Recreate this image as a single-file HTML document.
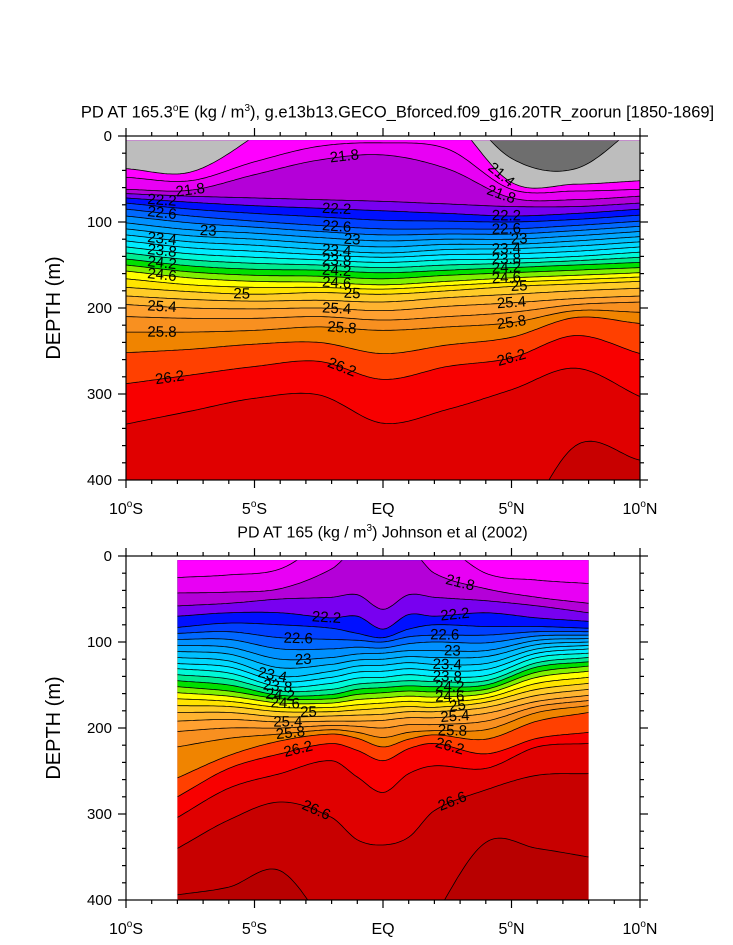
<!DOCTYPE html>
<html><head><meta charset="utf-8"><style>
html,body{margin:0;padding:0;background:#fff;}
svg{display:block;font-family:"Liberation Sans",sans-serif;}
</style></head><body>
<svg id="fig" width="733" height="945" viewBox="0 0 733 945">
<rect width="733" height="945" fill="#fff"/>
<g id="p1"></g>
<g id="p2"></g>
</svg>
<script>
// ---------- data ----------
const colorAbove = {"21.0":"#6e6e6e","21.4":"#bdbdbd","21.6":"#ff00ff","21.8":"#e800f4","22.0":"#b400d8","22.2":"#7800f0","22.4":"#0010ff","22.6":"#0040ff","22.8":"#0068ff","23.0":"#0090ff","23.2":"#00a8ff","23.4":"#00c0ff","23.6":"#00d8ff","23.8":"#00ecff","24.0":"#00f8d8","24.2":"#00ec90","24.4":"#00e000","24.6":"#80f000","24.8":"#ffff00","25.0":"#ffe400","25.2":"#ffcc28","25.4":"#ffb430","25.6":"#ffa030","25.8":"#f89020","26.0":"#f08400","26.2":"#ff4000","26.4":"#f80000","26.6":"#e00000","26.8":"#c80000"};

const topLats = [-10,-7.5,-5,-2.5,0,2.5,5,7.5,10];
const topLevels = [21.0,21.4,21.6,21.8,22.0,22.2,22.4,22.6,22.8,23.0,23.2,23.4,23.6,23.8,24.0,24.2,24.4,24.6,24.8,25.0,25.2,25.4,25.6,25.8,26.0,26.2,26.4,26.6];
const topDepths = [
 [-60,-60,-60,-60,-60,-45,26,38,-15],
 [38,42,0,-60,-60,-25,54,56,52],
 [48,52,30,12,8,15,62,64,62],
 [62,63,45,28,22,38,72,74,70],
 [67,70,72,74,76,79,82,82,78],
 [72,77,81,84,87,90,93,90,85],
 [78,85,90,94,98,99,100,97,92],
 [85,93,99,104,108,108,108,104,99],
 [93,101,106,111,115,114,114,110,105],
 [101,109,113,118,122,120,120,116,111],
 [108,116,120,125,129,126,126,122,117],
 [115,123,127,132,136,132,131,128,123],
 [122,130,134,138,141,138,137,134,129],
 [129,137,141,144,147,144,143,140,135],
 [136,144,148,150,153,150,148,145,141],
 [143,151,155,156,159,156,153,150,147],
 [150,158,162,163,166,162,159,156,153],
 [157,165,169,170,173,169,165,162,159],
 [166,173,176,176,178,174,170,167,164],
 [176,181,184,182,184,180,175,172,169],
 [186,190,192,191,193,188,184,180,177],
 [196,200,201,200,203,198,194,189,186],
 [210,212,212,210,214,210,205,196,193],
 [228,228,226,222,226,222,217,203,205],
 [252,248,242,240,253,243,234,211,218],
 [288,278,268,262,283,268,258,232,253],
 [335,320,305,301,334,318,295,270,303],
 [520,520,520,520,520,560,475,360,377]
];
const topLabelLevels = [21.8,21.8,21.4,21.8,22.2,22.6,23.4,23.8,24.2,24.6,25.4,25.8,26.2,22.2,22.6,23,23.4,23.8,24.2,24.6,25,25.4,25.8,26.2,22.2,22.6,23,23.4,23.8,24.2,24.6,25,25.4,25.8,26.2,25,23];
const topLabelLats  = [-7.5,-1.5,4.6,4.6,-8.6,-8.6,-8.6,-8.6,-8.6,-8.6,-8.6,-8.6,-8.3,-1.8,-1.8,-1.2,-1.8,-1.8,-1.8,-1.8,-1.2,-1.8,-1.6,-1.6,4.8,4.8,5.3,4.8,4.8,4.8,4.8,5.3,5.0,5.0,5.0,-5.5,-6.8];

const botLats = [-8,-6,-4,-2,-1,0,1,2,4,6,8];
const botLevels = [21.6,21.8,22.0,22.2,22.4,22.6,22.8,23.0,23.2,23.4,23.6,23.8,24.0,24.2,24.4,24.6,24.8,25.0,25.2,25.4,25.6,25.8,26.0,26.2,26.4,26.6,26.8];
const botDepths = [
 [25,22,15,-20,-20,-20,-20,-20,20,28,32],
 [43,42,38,15,-10,-10,-10,20,38,48,55],
 [58,55,50,48,45,62,45,48,52,58,66],
 [70,66,66,72,70,85,68,70,66,72,76],
 [83,78,80,84,90,95,85,80,82,82,84],
 [90,88,95,97,98,100,94,92,92,88,88],
 [97,97,108,108,106,107,102,100,101,93,92],
 [104,106,120,118,114,113,110,110,110,98,96],
 [111,114,130,126,121,120,117,118,117,103,100],
 [118,122,140,134,128,127,124,126,125,108,104],
 [125,129,146,141,135,134,131,133,132,113,108],
 [131,136,152,148,142,141,138,140,139,118,113],
 [138,143,157,155,149,147,145,146,145,124,118],
 [145,150,162,161,155,153,151,152,150,129,123],
 [152,157,166,166,161,159,157,158,155,135,128],
 [159,163,171,171,167,165,163,164,160,141,134],
 [166,169,176,176,173,171,169,170,165,148,141],
 [174,175,181,181,179,177,175,176,170,155,148],
 [182,182,187,186,185,184,181,181,176,162,155],
 [192,190,193,192,192,191,188,188,183,169,162],
 [204,200,200,197,198,200,196,196,192,175,168],
 [222,212,207,202,205,211,205,203,202,182,174],
 [258,232,215,207,212,222,213,208,213,192,182],
 [280,247,230,218,226,238,224,218,230,212,205],
 [304,270,253,238,257,275,253,244,247,222,218],
 [340,307,286,304,330,336,327,296,272,255,253],
 [394,385,366,440,480,480,480,420,333,340,350]
];
const botLabelLevels = [22.2,22.6,23,23.4,23.8,24.2,24.6,25,25.4,25.8,26.2,26.6,21.8,22.2,22.6,23,23.4,23.8,24.2,24.6,25,25.4,25.8,26.2,26.6];
const botLabelLats   = [-2.2,-3.3,-3.1,-4.3,-4.1,-4.0,-3.8,-2.9,-3.7,-3.6,-3.3,-2.6,3.0,2.8,2.4,2.7,2.5,2.5,2.6,2.6,2.9,2.8,2.7,2.6,2.7];

const yTicks = [0,100,200,300,400];
const xTicks = [-10,-5,0,5,10];
const xTickLabels = ["10\u00b0S","5\u00b0S","EQ","5\u00b0N","10\u00b0N"];

// ---------- helpers ----------
const NS="http://www.w3.org/2000/svg";
function mk(tag, attrs, parent){const e=document.createElementNS(NS,tag);for(const k in attrs)e.setAttribute(k,attrs[k]);parent.appendChild(e);return e;}
function interp(xs, ys, x){
  const n=xs.length;
  if(x<=xs[0]) return ys[0]; if(x>=xs[n-1]) return ys[n-1];
  let i=0; while(x>xs[i+1]) i++;
  const x0=xs[i],x1=xs[i+1],h=x1-x0,t=(x-x0)/h;
  const m=j=>{ if(j<=0) return (ys[1]-ys[0])/(xs[1]-xs[0]); if(j>=n-1) return (ys[n-1]-ys[n-2])/(xs[n-1]-xs[n-2]); return (ys[j+1]-ys[j-1])/(xs[j+1]-xs[j-1]); };
  const h00=2*t*t*t-3*t*t+1,h10=t*t*t-2*t*t+t,h01=-2*t*t*t+3*t*t,h11=t*t*t-t*t;
  return h00*ys[i]+h10*h*m(i)+h01*ys[i+1]+h11*h*m(i+1);
}
function key(v){return v.toFixed(1);}

function panel(g, cfg){
  const X=lat=>cfg.x0+(lat+10)*(cfg.x1-cfg.x0)/20;
  const Y=d=>cfg.y0+d*(cfg.y1-cfg.y0)/400;
  const id='clip'+cfg.id;
  const cp=mk('clipPath',{id:id},g);
  mk('rect',{x:X(cfg.latMin),y:Y(cfg.dMin),width:X(cfg.latMax)-X(cfg.latMin),height:Y(400)-Y(cfg.dMin)},cp);
  const fills=mk('g',{'clip-path':'url(#'+id+')'},g);
  
  
  mk('rect',{x:cfg.x0,y:cfg.y0,width:cfg.x1-cfg.x0,height:cfg.y1-cfg.y0,fill:cfg.deepColor},fills);
  const curves=[];
  for(let i=0;i<cfg.levels.length;i++){
    let pts=[];
    for(let lat=cfg.latMin;lat<=cfg.latMax+1e-6;lat+=0.1){pts.push([X(lat),Y(interp(cfg.lats,cfg.depths[i],lat))]);}
    curves.push(pts);
  }
  for(let i=cfg.levels.length-1;i>=0;i--){
    const pts=curves[i];
    let d='M'+pts[0][0]+','+(cfg.y0-200)+' ';
    pts.forEach(p=>d+='L'+p[0].toFixed(1)+','+p[1].toFixed(1)+' ');
    d+='L'+pts[pts.length-1][0]+','+(cfg.y0-200)+' Z';
    const p=mk('path',{d:d,fill:colorAbove[key(cfg.levels[i])],stroke:'none'},fills);
    
    
  }
  const lines=mk('g',{'clip-path':'url(#'+id+')',fill:'none',stroke:'#000','stroke-width':'0.8'},g);
  
  
  curves.forEach((pts,i)=>{
    const l=mk('polyline',{points:pts.map(p=>p[0].toFixed(1)+','+p[1].toFixed(1)).join(' ')},lines);
    
    
  });
  const lg=mk('g',{'font-size':'15','text-anchor':'middle','dominant-baseline':'central',fill:'#000'},g);
  
  
  cfg.labLevels.forEach((lv,k)=>{
    const idx=cfg.levels.findIndex(v=>Math.abs(v-lv)<1e-6);
    const lat=cfg.labLats[k];
    if(idx<0){ return; }
    const dd=interp(cfg.lats,cfg.depths[idx],lat);
    const d2=interp(cfg.lats,cfg.depths[idx],lat+0.2);
    const x=X(lat), y=Y(dd);
    const ang=Math.atan2(Y(d2)-y, X(lat+0.2)-x)*180/Math.PI;
    const t=mk('text',{x:x.toFixed(1),y:y.toFixed(1),transform:'rotate('+ang.toFixed(1)+' '+x.toFixed(1)+' '+y.toFixed(1)+')'},lg);
    t.textContent=String(lv);
    
    
  });
  const ax=mk('g',{stroke:'#000','stroke-width':'1.2',fill:'none'},g);
  
  
  mk('rect',{x:cfg.x0,y:cfg.y0,width:cfg.x1-cfg.x0,height:cfg.y1-cfg.y0},ax);
  for(let d=0;d<=400;d+=20){const maj=d%100===0,L=maj?8:4,y=Y(d);
    mk('line',{x1:cfg.x0-L,y1:y,x2:cfg.x0,y2:y},ax);mk('line',{x1:cfg.x1,y1:y,x2:cfg.x1+L,y2:y},ax);}
  for(let lat=-10;lat<=10;lat++){const maj=lat%5===0,L=maj?8:4,x=X(lat);
    mk('line',{x1:x,y1:cfg.y1,x2:x,y2:cfg.y1+L},ax);mk('line',{x1:x,y1:cfg.y0-L,x2:x,y2:cfg.y0},ax);}
  const tl=mk('g',{'font-size':'15',fill:'#000'},g);
  
  
  yTicks.forEach(v=>{const t=mk('text',{x:cfg.x0-14,y:Y(v)+5,'text-anchor':'end'},tl);t.textContent=v;
    
    });
  xTicks.forEach((v,i)=>{const t=mk('text',{x:X(v),y:cfg.y1+34,'text-anchor':'middle','font-size':'16'},tl);
    const lab=xTickLabels[i];
    if(lab.indexOf('\u00b0')>=0){const parts=lab.split('\u00b0');t.appendChild(document.createTextNode(parts[0]));
      const s=mk('tspan',{'font-size':'10',dy:'-7'},t);s.textContent='o';const r=mk('tspan',{dy:'7'},t);r.textContent=parts[1];}
    else t.textContent=lab;
    
    });
  const yt=mk('text',{x:60,y:(cfg.y0+cfg.y1)/2,'font-size':'20','text-anchor':'middle',transform:'rotate(-90 60 '+((cfg.y0+cfg.y1)/2)+')'},g);
  yt.textContent='DEPTH (m)';
  
  
}

panel(document.getElementById('p1'),{id:1,x0:126,x1:640,y0:136,y1:480,latMin:-10,latMax:10,dMin:5,
  lats:topLats,levels:topLevels,depths:topDepths,deepColor:'#c80000',labLevels:topLabelLevels,labLats:topLabelLats});
panel(document.getElementById('p2'),{id:2,x0:126,x1:640,y0:556,y1:900,latMin:-8,latMax:8,dMin:5,
  lats:botLats,levels:botLevels,depths:botDepths,deepColor:'#b80000',labLevels:botLabelLevels,labLats:botLabelLats});
</script>
<div style="position:absolute;left:0;top:0;width:733px;height:0;">
<div style="position:absolute;left:0;width:733px;top:103px;text-align:center;font:16.5px 'Liberation Sans',sans-serif;color:#000;white-space:nowrap;padding-left:62px;box-sizing:border-box;">PD AT 165.3<sup style="font-size:10px">o</sup>E (kg / m<sup style="font-size:10px">3</sup>), g.e13b13.GECO_Bforced.f09_g16.20TR_zoorun [1850-1869]</div>
<div style="position:absolute;left:0;width:733px;top:523px;text-align:center;font:16px 'Liberation Sans',sans-serif;color:#000;white-space:nowrap;padding-left:32px;box-sizing:border-box;">PD AT 165 (kg / m<sup style="font-size:10px">3</sup>) Johnson et al (2002)</div>
</div>
</body></html>
